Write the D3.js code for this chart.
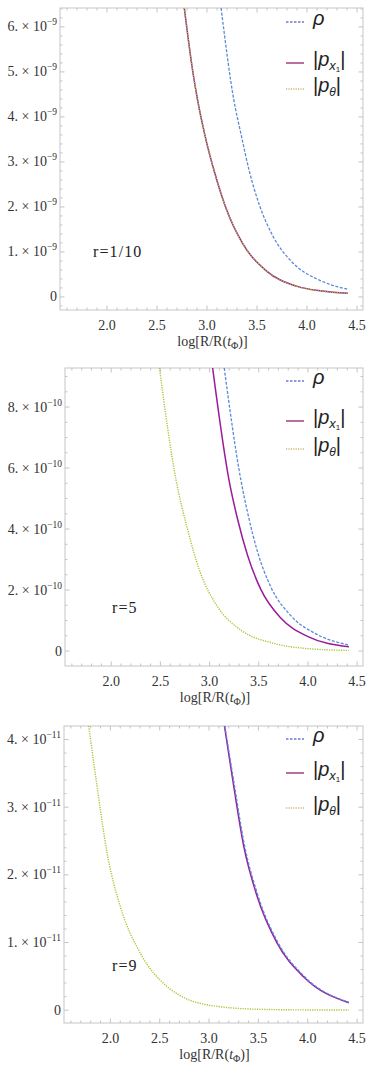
<!DOCTYPE html>
<html><head><meta charset="utf-8">
<script src="https://cdn.jsdelivr.net/npm/d3@7"></script>
<style>
html,body{margin:0;padding:0;background:#fff;}
svg{display:block;}
</style></head>
<body>
<svg id="chart" width="374" height="1075"></svg>
<script>
// ---------- data ----------
const xTicks = [2.0, 2.5, 3.0, 3.5, 4.0, 4.5];
const xTickLabels = ["2.0", "2.5", "3.0", "3.5", "4.0", "4.5"];
const seriesNames = ["ρ", "|p_x1|", "|p_θ|"];

// panel 1: r = 1/10  (values in units of 1e-9)
const p1x_rho = [3.141, 3.268, 3.342, 3.425, 3.526, 3.66, 3.861, 4.128, 4.41];
const p1y_rho = [6.42, 4.38, 3.6, 2.78, 2.03, 1.35, 0.75, 0.37, 0.17];
const p1x_px = [2.773, 2.857, 2.907, 2.991, 3.074, 3.192, 3.359, 3.593, 3.894, 4.15, 4.41];
const p1y_px = [6.42, 5.02, 4.36, 3.48, 2.78, 1.96, 1.18, 0.58, 0.24, 0.13, 0.08];
const p1x_pt = [2.773, 2.857, 2.907, 2.991, 3.074, 3.192, 3.359, 3.593, 3.894, 4.15, 4.41];
const p1y_pt = [6.42, 5.02, 4.36, 3.48, 2.78, 1.96, 1.18, 0.58, 0.24, 0.13, 0.08];
const p1yTicks = [0, 1, 2, 3, 4, 5, 6];
const p1yTickLabels = ["0", "1.×10^-9", "2.×10^-9", "3.×10^-9", "4.×10^-9", "5.×10^-9", "6.×10^-9"];

// panel 2: r = 5  (values in units of 1e-10)
const p2x_rho = [3.149, 3.318, 3.386, 3.488, 3.623, 3.826, 4.096, 4.417];
const p2y_rho = [9.28, 5.61, 4.55, 3.25, 2.1, 1.16, 0.54, 0.2];
const p2x_px = [3.031, 3.2, 3.285, 3.386, 3.521, 3.724, 3.995, 4.417];
const p2y_px = [9.28, 5.56, 4.32, 3.14, 2.02, 1.08, 0.48, 0.14];
const p2x_pt = [2.49, 2.659, 2.778, 2.896, 3.082, 3.318, 3.656, 4.0, 4.417];
const p2y_pt = [9.28, 5.61, 3.97, 2.66, 1.45, 0.69, 0.25, 0.08, 0.02];
const p2yTicks = [0, 2, 4, 6, 8];
const p2yTickLabels = ["0", "2.×10^-10", "4.×10^-10", "6.×10^-10", "8.×10^-10"];

// panel 3: r = 9  (values in units of 1e-11)
const p3x_rho = [3.16, 3.255, 3.356, 3.492, 3.694, 3.964, 4.417];
const p3y_rho = [4.2, 3.34, 2.46, 1.71, 1.01, 0.5, 0.115];
const p3x_px = [3.156, 3.25, 3.352, 3.488, 3.69, 3.96, 4.417];
const p3y_px = [4.2, 3.31, 2.42, 1.68, 0.99, 0.49, 0.11];
const p3x_pt = [1.78, 1.865, 1.967, 2.101, 2.304, 2.575, 3.014, 3.52, 4.0, 4.417];
const p3y_pt = [4.2, 3.31, 2.32, 1.53, 0.84, 0.35, 0.07, 0.012, 0.003, 0.001];
const p3yTicks = [0, 1, 2, 3, 4];
const p3yTickLabels = ["0", "1.×10^-11", "2.×10^-11", "3.×10^-11", "4.×10^-11"];

const panelLabels = ["r=1/10", "r=5", "r=9"];

// ---------- layout ----------
const panels = [
  {left:60, right:363, top:8, bottom:310, yDom:[-0.29, 6.42], yMinor:0.2,
   rho:[p1x_rho,p1y_rho], px:[p1x_px,p1y_px], pt:[p1x_pt,p1y_pt],
   yTicks:p1yTicks, yLabels:p1yTickLabels, label:panelLabels[0], lx:93, ly:257,
   legRows:[14, 55, 81]},
  {left:65, right:363, top:368, bottom:666, yDom:[-0.49, 9.28], yMinor:0.5,
   rho:[p2x_rho,p2y_rho], px:[p2x_px,p2y_px], pt:[p2x_pt,p2y_pt],
   yTicks:p2yTicks, yLabels:p2yTickLabels, label:panelLabels[1], lx:112, ly:613,
   legRows:[13, 53, 81]},
  {left:64, right:363, top:726, bottom:1023, yDom:[-0.19, 4.2], yMinor:0.2,
   rho:[p3x_rho,p3y_rho], px:[p3x_px,p3y_px], pt:[p3x_pt,p3y_pt],
   yTicks:p3yTicks, yLabels:p3yTickLabels, label:panelLabels[2], lx:112, ly:971,
   legRows:[13, 47, 82]}
];
const xDom = [1.53, 4.56];

const colRho = "#5b88d8", colPx = "#9a1a9a", colPt = "#a6c630";
const legRho = "#7676d4", legPx = "#b8709f", legPt = "#c9bc78";
const serif = "'Liberation Serif','Times New Roman',serif";
const sans = "'Liberation Sans',Arial,sans-serif";

const svg = d3.select("#chart");

panels.forEach((p, i) => {
  const x = d3.scaleLinear().domain(xDom).range([p.left, p.right]);
  const y = d3.scaleLinear().domain(p.yDom).range([p.bottom, p.top]);
  const g = svg.append("g");

  // minor & major ticks (inside frame, all four sides)
  const xMinor = d3.range(1.6, 4.56, 0.1).filter(v => Math.abs(v*2 - Math.round(v*2)) > 1e-6);
  const yMinor = d3.range(Math.ceil(p.yDom[0]/p.yMinor)*p.yMinor, p.yDom[1], p.yMinor)
                   .filter(v => !p.yTicks.some(t => Math.abs(t - v) < 1e-6));
  const tickCol = "#b4b4b4";
  const tk = g.append("g").attr("stroke", tickCol).attr("stroke-width", 0.8);
  xTicks.forEach(v => {
    tk.append("line").attr("x1", x(v)).attr("x2", x(v)).attr("y1", p.bottom).attr("y2", p.bottom-4.5);
    tk.append("line").attr("x1", x(v)).attr("x2", x(v)).attr("y1", p.top).attr("y2", p.top+4.5);
  });
  xMinor.forEach(v => {
    tk.append("line").attr("x1", x(v)).attr("x2", x(v)).attr("y1", p.bottom).attr("y2", p.bottom-2.5);
    tk.append("line").attr("x1", x(v)).attr("x2", x(v)).attr("y1", p.top).attr("y2", p.top+2.5);
  });
  p.yTicks.forEach(v => {
    tk.append("line").attr("y1", y(v)).attr("y2", y(v)).attr("x1", p.left).attr("x2", p.left+4.5);
    tk.append("line").attr("y1", y(v)).attr("y2", y(v)).attr("x1", p.right).attr("x2", p.right-4.5);
  });
  yMinor.forEach(v => {
    tk.append("line").attr("y1", y(v)).attr("y2", y(v)).attr("x1", p.left).attr("x2", p.left+2.5);
    tk.append("line").attr("y1", y(v)).attr("y2", y(v)).attr("x1", p.right).attr("x2", p.right-2.5);
  });

  // frame
  g.append("rect").attr("x", p.left).attr("y", p.top)
    .attr("width", p.right-p.left).attr("height", p.bottom-p.top)
    .attr("fill", "none").attr("stroke", "#c6c6c6").attr("stroke-width", 1);

  // x tick labels
  xTicks.forEach((v, k) => {
    g.append("text").attr("x", x(v)).attr("y", p.bottom+19.5)
      .attr("text-anchor", "middle").attr("font-family", serif).attr("font-size", 14)
      .attr("fill", "#333").text(xTickLabels[k]);
  });
  // y tick labels
  p.yTicks.forEach((v, k) => {
    const lab = p.yLabels[k];
    const t = g.append("text").attr("x", p.left-3).attr("y", y(v)+4.5)
      .attr("text-anchor", "end").attr("font-family", serif).attr("font-size", 14).attr("fill", "#333");
    if (lab.indexOf("^") < 0) { t.text(lab); }
    else {
      const [m, e] = lab.split("^");
      t.append("tspan").text(m.replace("×", " × "));
      t.append("tspan").attr("font-size", 9.5).attr("dy", -6).text(e.replace("-", "−"));
    }
  });
  // x axis label
  const xl = g.append("text").attr("x", (p.left+p.right)/2+1).attr("y", p.bottom+36)
    .attr("text-anchor", "middle").attr("font-family", serif).attr("font-size", 14).attr("fill", "#333");
  xl.append("tspan").text("log[R/R(");
  xl.append("tspan").attr("font-style", "italic").text("t");
  xl.append("tspan").attr("font-size", 10).attr("dy", 3).text("Φ");
  xl.append("tspan").attr("dy", -3).text(")]");

  // curves
  const clipId = "clip" + i;
  svg.append("clipPath").attr("id", clipId).append("rect")
    .attr("x", p.left).attr("y", p.top).attr("width", p.right-p.left).attr("height", p.bottom-p.top);
  const line = d3.line().x(d => x(d[0])).y(d => y(d[1])).curve(d3.curveMonotoneX);
  const toPts = arr => arr[0].map((v, k) => [v, arr[1][k]]);
  const cg = g.append("g").attr("clip-path", `url(#${clipId})`).attr("fill", "none");
  cg.append("path").attr("d", line(toPts(p.px))).attr("stroke", colPx).attr("stroke-width", 1.5);
  cg.append("path").attr("d", line(toPts(p.rho))).attr("stroke", colRho).attr("stroke-width", 1.3)
    .attr("stroke-dasharray", "3,1.6");
  cg.append("path").attr("d", line(toPts(p.pt))).attr("stroke", colPt).attr("stroke-width", 1.4)
    .attr("stroke-dasharray", "1.2,1.2");

  // panel label
  g.append("text").attr("x", p.lx).attr("y", p.ly).attr("font-family", serif)
    .attr("font-size", 16).attr("letter-spacing", 1.1).attr("fill", "#222").text(p.label);

  // legend
  const lx0 = 286, lx1 = 304, tx = 313;
  const r = p.legRows.map(o => p.top + o);
  const lg = g.append("g");
  lg.append("line").attr("x1", lx0).attr("x2", lx1).attr("y1", r[0]).attr("y2", r[0])
    .attr("stroke", legRho).attr("stroke-width", 1.3).attr("stroke-dasharray", "2.5,1.5");
  lg.append("line").attr("x1", lx0).attr("x2", lx1).attr("y1", r[1]).attr("y2", r[1])
    .attr("stroke", legPx).attr("stroke-width", 2);
  lg.append("line").attr("x1", lx0).attr("x2", lx1).attr("y1", r[2]).attr("y2", r[2])
    .attr("stroke", legPt).attr("stroke-width", 1.4).attr("stroke-dasharray", "1.2,1.2");

  lg.append("text").attr("x", tx).attr("y", r[0]+3).attr("font-family", sans).attr("font-size", 20)
    .attr("font-style", "italic").attr("fill", "#222").text(seriesNames[0]);

  const t2 = lg.append("text").attr("x", tx).attr("y", r[1]+3).attr("font-family", sans)
    .attr("font-size", 20).attr("fill", "#222");
  t2.append("tspan").text("|");
  t2.append("tspan").attr("font-style", "italic").text("p");
  t2.append("tspan").attr("font-style", "italic").attr("font-size", 13).attr("dy", 4).text("x");
  t2.append("tspan").attr("font-size", 8).attr("dy", 2).text("1");
  t2.append("tspan").attr("dy", -6).text("|");

  const t3 = lg.append("text").attr("x", tx).attr("y", r[2]+3).attr("font-family", sans)
    .attr("font-size", 20).attr("fill", "#222");
  t3.append("tspan").text("|");
  t3.append("tspan").attr("font-style", "italic").text("p");
  t3.append("tspan").attr("font-style", "italic").attr("font-size", 12).attr("dy", 4).text("θ");
  t3.append("tspan").attr("dy", -4).text("|");
});
</script>
</body></html>
